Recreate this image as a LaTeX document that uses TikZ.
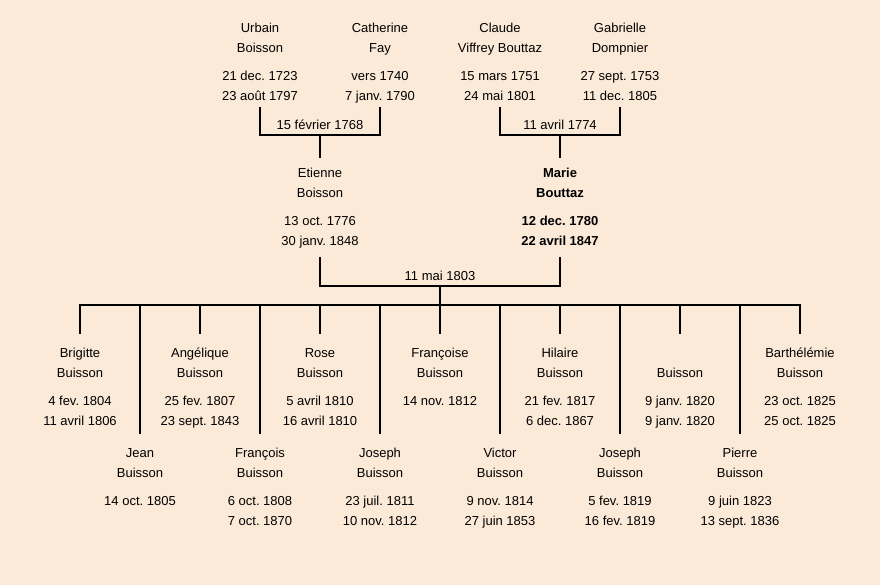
\documentclass[tikz,border=0pt]{standalone}
\usepackage{fontspec}
\setmainfont{Liberation Sans}
\frenchspacing
\definecolor{bg}{RGB}{252,234,216}
\newcommand{\topstrut}{\rule{0pt}{10pt}}
\begin{document}
\begin{tikzpicture}[x=1pt,y=-1pt,
  person/.style={anchor=north,inner sep=0pt,align=center,font=\fontsize{13}{20}\selectfont\frenchspacing},
  date/.style={inner sep=0pt,font=\fontsize{13}{15}\selectfont},
  link/.style={line width=2pt,line cap=rect}]
\fill[bg] (0,0) rectangle (880,585);
\useasboundingbox (0,0) rectangle (880,585);
% grandparents
\node[person] (urbain) at (260,22) {\topstrut Urbain\\Boisson\\[8pt]21 dec. 1723\\23 août 1797};
\node[person] (catherine) at (380,22) {\topstrut Catherine\\Fay\\[8pt]vers 1740\\7 janv. 1790};
\node[person] (claude) at (500,22) {\topstrut Claude\\Viffrey Bouttaz\\[8pt]15 mars 1751\\24 mai 1801};
\node[person] (gabrielle) at (620,22) {\topstrut Gabrielle\\Dompnier\\[8pt]27 sept. 1753\\11 dec. 1805};
% parents
\node[person] (etienne) at (320,167) {\topstrut Etienne\\Boisson\\[8pt]13 oct. 1776\\30 janv. 1848};
\node[person,font=\fontsize{13}{20}\selectfont\frenchspacing\bfseries] (marie) at (560,167) {\topstrut Marie\\Bouttaz\\[8pt]12 dec. 1780\\22 avril 1847};
% marriages
\coordinate (m1) at (320,135);
\coordinate (m2) at (560,135);
\coordinate (m3) at (440,286);
\node[date,anchor=base] (d1) at (320,130) {15 février 1768};
\node[date,anchor=base] (d2) at (560,130) {11 avril 1774};
\node[date,anchor=base] (d3) at (440,280) {11 mai 1803};
\draw[link] (urbain.south |- 0,108) -- (urbain.south |- m1) -- (catherine.south |- m1) -- (catherine.south |- 0,108);
\draw[link] (m1) -- (etienne.north |- 0,157);
\draw[link] (claude.south |- 0,108) -- (claude.south |- m2) -- (gabrielle.south |- m2) -- (gabrielle.south |- 0,108);
\draw[link] (m2) -- (marie.north |- 0,157);
\draw[link] (etienne.south |- 0,258) -- (etienne.south |- m3) -- (marie.south |- m3) -- (marie.south |- 0,258);
\coordinate (bar) at (440,305);
\draw[link] (m3) -- (bar);
% children upper row
\node[person] (c1) at (80,347) {\topstrut Brigitte\\Buisson\\[8pt]4 fev. 1804\\11 avril 1806};
\node[person] (c3) at (200,347) {\topstrut Angélique\\Buisson\\[8pt]25 fev. 1807\\23 sept. 1843};
\node[person] (c5) at (320,347) {\topstrut Rose\\Buisson\\[8pt]5 avril 1810\\16 avril 1810};
\node[person] (c7) at (440,347) {\topstrut Françoise\\Buisson\\[8pt]14 nov. 1812};
\node[person] (c9) at (560,347) {\topstrut Hilaire\\Buisson\\[8pt]21 fev. 1817\\6 dec. 1867};
\node[person] (c11) at (680,367) {\topstrut Buisson\\[8pt]9 janv. 1820\\9 janv. 1820};
\node[person] (c13) at (800,347) {\topstrut Barthélémie\\Buisson\\[8pt]23 oct. 1825\\25 oct. 1825};
% children lower row
\node[person] (c2) at (140,447) {\topstrut Jean\\Buisson\\[8pt]14 oct. 1805};
\node[person] (c4) at (260,447) {\topstrut François\\Buisson\\[8pt]6 oct. 1808\\7 oct. 1870};
\node[person] (c6) at (380,447) {\topstrut Joseph\\Buisson\\[8pt]23 juil. 1811\\10 nov. 1812};
\node[person] (c8) at (500,447) {\topstrut Victor\\Buisson\\[8pt]9 nov. 1814\\27 juin 1853};
\node[person] (c10) at (620,447) {\topstrut Joseph\\Buisson\\[8pt]5 fev. 1819\\16 fev. 1819};
\node[person] (c12) at (740,447) {\topstrut Pierre\\Buisson\\[8pt]9 juin 1823\\13 sept. 1836};
\draw[link] (c1.north |- bar) -- (c13.north |- bar);
\foreach \c in {c1,c3,c5,c7,c9,c11,c13}{\draw[link] (\c.north |- bar) -- (\c.north |- 0,333);}
\foreach \c in {c2,c4,c6,c8,c10,c12}{\draw[link] (\c.north |- bar) -- (\c.north |- 0,433);}
\end{tikzpicture}
\end{document}
